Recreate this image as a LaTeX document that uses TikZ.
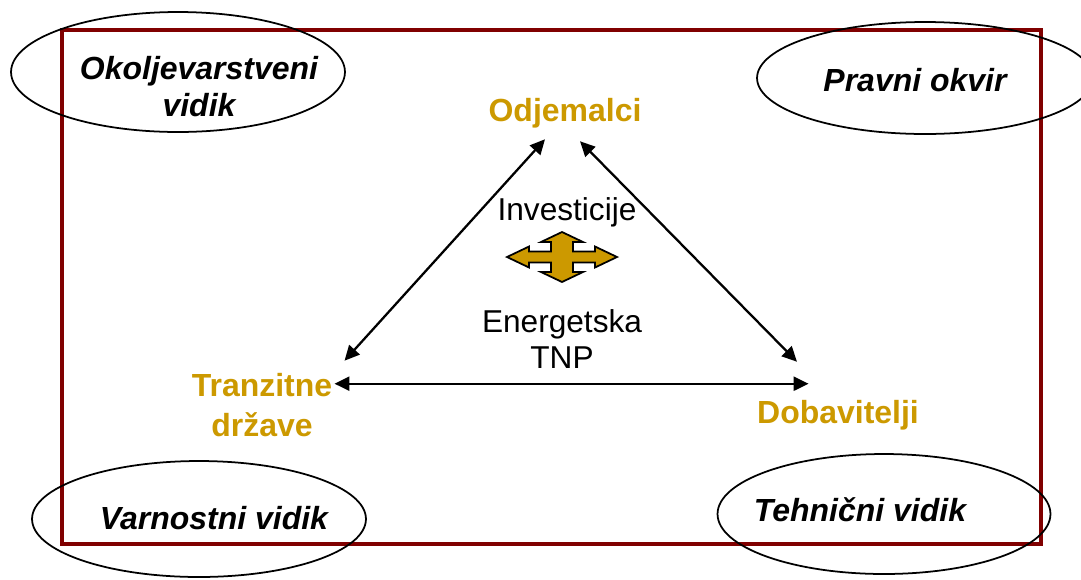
\documentclass[tikz,border=0pt]{standalone}
\usepackage{fontspec}
\setmainfont{Liberation Sans}
\usetikzlibrary{shapes.geometric,calc,arrows.meta}
\definecolor{zlato}{RGB}{204,153,0}
\definecolor{bordo}{RGB}{128,0,0}
\begin{document}
\begin{tikzpicture}[x=0.02cm,y=-0.02cm,>={Triangle[length=8.5pt,width=8pt]},
	vidik/.style={ellipse,draw,line width=1pt,inner sep=0},
	naslov/.style={font=\fontsize{18.2}{21}\selectfont\bfseries\itshape,align=center,inner sep=0},
	akter/.style={font=\fontsize{18.2}{23}\selectfont\bfseries,text=zlato,align=center,inner sep=0},
	besedilo/.style={font=\fontsize{18}{20}\selectfont,align=center,inner sep=0},
	vez/.style={<->,line width=1.3pt}]
	\useasboundingbox (0,0) rectangle (1081,579);
	\draw [line width=1.8pt,color=bordo] (62,30) rectangle (1041,544);

	% vidiki
	\node (E1) [vidik,minimum width=6.68cm,minimum height=2.4cm] at (178,72) {};
	\node (E2) [vidik,minimum width=6.72cm,minimum height=2.24cm] at (925,78) {};
	\node (E3) [vidik,minimum width=6.68cm,minimum height=2.32cm] at (199,519) {};
	\node (E4) [vidik,minimum width=6.66cm,minimum height=2.4cm] at (884,514) {};
	\node (V1) [naslov] at (199,87) {Okoljevarstveni\\vidik};
	\node (V2) [naslov] at (915,80) {Pravni okvir};
	\node (V3) [naslov] at (214,518) {Varnostni vidik};
	\node (V4) [naslov] at (860,510) {Tehnični vidik};

	% akterji
	\node (Odj) [akter] at (565,113) {Odjemalci};
	\node (Tra) [akter] at (262,405) {Tranzitne\\države};
	\node (Dob) [akter] at (838,415) {Dobavitelji};
	\node (Inv) [besedilo] at (567,212) {Investicije};
	\node (Ene) [besedilo] at (562,339) {Energetska\\TNP};

	\draw [vez] ($(Odj.south)+(-20,11)$) -- ($(Tra.north east)+(12,-12)$);
	\draw [vez] ($(Odj.south)+(15,13)$) -- ($(Dob.north)+(-41,-38)$);
	\draw [vez] ($(Tra.north east)+(2,11)$) -- ++(474,0);

	\filldraw [fill=zlato,draw=black,line width=1pt,shift={(562,257)}] (-55,0) -- (-33,-10.5) -- (-33,-5.5) -- (-11,-5.5) -- (-11,-15) -- (-21,-15) -- (0,-25) -- (21,-15) -- (11,-15) -- (11,-5.5) -- (33,-5.5) -- (33,-10.5) -- (55,0) -- (33,10.5) -- (33,5.5) -- (11,5.5) -- (11,15) -- (21,15) -- (0,25) -- (-21,15) -- (-11,15) -- (-11,5.5) -- (-33,5.5) -- (-33,10.5) -- cycle;
\end{tikzpicture}
\end{document}
